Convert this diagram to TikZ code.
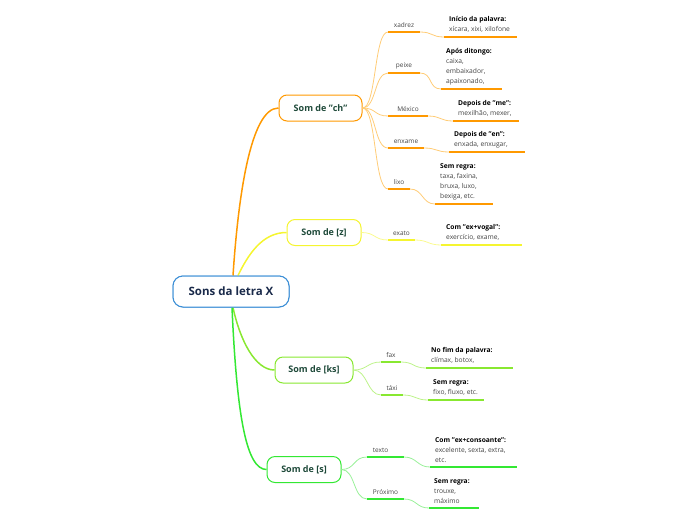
\documentclass[tikz,border=0pt]{standalone}
\usepackage{fontspec}
\setmainfont{Open Sans}
\usetikzlibrary{calc}
\definecolor{cOr}{HTML}{FF9900}
\definecolor{cOrL}{HTML}{FFCC77}
\definecolor{cYe}{HTML}{F5F530}
\definecolor{cYeL}{HTML}{FAFA90}
\definecolor{cLg}{HTML}{88E830}
\definecolor{cLgL}{HTML}{BDF38A}
\definecolor{cGr}{HTML}{33E833}
\definecolor{cGrL}{HTML}{99F099}
\definecolor{cBl}{HTML}{3D8FD6}
\definecolor{cTxt}{HTML}{1F4A3A}
\definecolor{cRoot}{HTML}{1A2A4A}
\definecolor{cGrey}{HTML}{444444}
\tikzset{
  box/.style={draw, fill=white, rounded corners=8pt, line width=1pt, inner sep=0pt, font=\fontsize{9}{10}\selectfont\bfseries, text=cTxt, minimum height=26pt},
  rootbox/.style={draw=cBl, fill=white, rounded corners=10pt, line width=1pt, inner sep=0pt, font=\fontsize{11.5}{13}\selectfont\bfseries, text=cRoot, minimum width=116pt, minimum height=31pt},
  lbl/.style={font=\fontsize{6.5}{8}\selectfont, text=cGrey, inner sep=0pt, anchor=south},
  leaf/.style={font=\fontsize{6.7}{10}\selectfont, text=cGrey, inner sep=0pt, anchor=south west, align=left},
  uline/.style={line width=1.6pt},
  conn/.style={line width=0.8pt},
  main/.style={line width=1.5pt},
}
\newcommand{\hd}[1]{{\bfseries\color{black}#1}}
\begin{document}
\begin{tikzpicture}[x=1pt,y=-1pt]
\useasboundingbox (0,0) rectangle (696,520);
% main nodes
\node[rootbox] (root) at (231,291.5) {Sons da letra X};
\node[box, draw=cOr, minimum width=83pt] (ch) at (320.5,108) {Som de "ch"};
\node[box, draw=cYe, minimum width=74pt] (z) at (324,232.5) {Som de [z]};
\node[box, draw=cLg, minimum width=78pt] (ks) at (314,370) {Som de [ks]};
\node[box, draw=cGr, minimum width=74pt] (s) at (304,469.5) {Som de [s]};
% root connectors
\coordinate (rt1) at ($(root.north)+(2,0)$);
\coordinate (rt2) at ($(root.north)+(7,0)$);
\coordinate (rb1) at ($(root.south)+(2,0)$);
\coordinate (rb2) at ($(root.south)+(1,0)$);
\draw[main, cOr] (rt1) .. controls (238,200) and (250,108) .. (ch.west);
\draw[main, cYe] (rt2) .. controls (248,255) and (262,232.5) .. (z.west);
\draw[main, cLg] (rb1) .. controls (240,340) and (255,370) .. (ks.west);
\draw[main, cGr] (rb2) .. controls (237,420) and (247,469.5) .. (s.west);
\node[rootbox] at (root) {Sons da letra X};
% ---------- ch group ----------
\coordinate (a1) at (388,32); \coordinate (a2) at (420,32);
\coordinate (a3) at (444,37); \coordinate (a4) at (517,37);
\coordinate (b1) at (388,73); \coordinate (b2) at (420,73);
\coordinate (b3) at (441,89); \coordinate (b4) at (502,89);
\coordinate (c1) at (388,116); \coordinate (c2) at (428,116);
\coordinate (c3) at (453,121); \coordinate (c4) at (519,121);
\coordinate (d1) at (388,148); \coordinate (d2) at (424,148);
\coordinate (d3) at (449,152); \coordinate (d4) at (525,152);
\coordinate (e1) at (388,189); \coordinate (e2) at (410,189);
\coordinate (e3) at (435,204); \coordinate (e4) at (493,204);
\foreach \p in {a,b,c,d,e}{
  \draw[conn, cOrL] (ch.east) .. controls +(14,0) and +(-14,0) .. (\p1);
  \draw[conn, cOrL] (\p2) .. controls +(13,0) and +(-13,0) .. (\p3);
  \draw[uline, cOr] (\p1) -- (\p2);
  \draw[uline, cOr] (\p3) -- (\p4);
}
\node[lbl] (la) at ($(a1)!0.5!(a2)+(0,-4)$) {xadrez};
\node[lbl] (lb) at ($(b1)!0.5!(b2)+(0,-4)$) {peixe};
\node[lbl] (lc) at ($(c1)!0.5!(c2)+(0,-4)$) {México};
\node[lbl] (ld) at ($(d1)!0.5!(d2)+(0,-4)$) {enxame};
\node[lbl] (le) at ($(e1)!0.5!(e2)+(0,-4)$) {lixo};
\node[leaf] (fa) at ($(a3)+(5,-4)$) {\hd{Início da palavra:}\\xícara, xixi, xilofone};
\node[leaf] (fb) at ($(b3)+(5,-4)$) {\hd{Após ditongo:}\\caixa,\\embaixador,\\apaixonado,};
\node[leaf] (fc) at ($(c3)+(5,-4)$) {\hd{Depois de "me":}\\mexilhão, mexer,};
\node[leaf] (fd) at ($(d3)+(5,-4)$) {\hd{Depois de "en":}\\enxada, enxugar,};
\node[leaf] (fe) at ($(e3)+(5,-4)$) {\hd{Sem regra:}\\taxa, faxina,\\bruxa, luxo,\\bexiga, etc.};
% ---------- z group ----------
\coordinate (g1) at (388,240); \coordinate (g2) at (415,240);
\coordinate (g3) at (441,245); \coordinate (g4) at (522,245);
\draw[conn, cYeL] (z.east) .. controls +(14,0) and +(-14,0) .. (g1);
\draw[conn, cYeL] (g2) .. controls +(13,0) and +(-13,0) .. (g3);
\draw[uline, cYe] (g1) -- (g2);
\draw[uline, cYe] (g3) -- (g4);
\node[lbl] (lg) at ($(g1)!0.5!(g2)+(0,-4)$) {exato};
\node[leaf] (fg) at ($(g3)+(5,-4)$) {\hd{Com "ex+vogal":}\\exercício, exame,};
% ---------- ks group ----------
\coordinate (h1) at (381,362); \coordinate (h2) at (401,362);
\coordinate (h3) at (426,368); \coordinate (h4) at (513,368);
\coordinate (i1) at (381,395); \coordinate (i2) at (403,395);
\coordinate (i3) at (428,400); \coordinate (i4) at (484,400);
\foreach \p in {h,i}{
  \draw[conn, cLgL] (ks.east) .. controls +(14,0) and +(-14,0) .. (\p1);
  \draw[conn, cLgL] (\p2) .. controls +(13,0) and +(-13,0) .. (\p3);
  \draw[uline, cLg] (\p1) -- (\p2);
  \draw[uline, cLg] (\p3) -- (\p4);
}
\node[lbl] (lh) at ($(h1)!0.5!(h2)+(0,-4)$) {fax};
\node[lbl] (li) at ($(i1)!0.5!(i2)+(0,-4)$) {táxi};
\node[leaf] (fh) at ($(h3)+(5,-4)$) {\hd{No fim da palavra:}\\clímax, botox,};
\node[leaf] (fi) at ($(i3)+(5,-4)$) {\hd{Sem regra:}\\fixo, fluxo, etc.};
% ---------- s group ----------
\coordinate (j1) at (367,457); \coordinate (j2) at (404,457);
\coordinate (j3) at (430,467); \coordinate (j4) at (517,467);
\coordinate (k1) at (367,499); \coordinate (k2) at (404,499);
\coordinate (k3) at (429,508); \coordinate (k4) at (479,508);
\foreach \p in {j,k}{
  \draw[conn, cGrL] (s.east) .. controls +(14,0) and +(-14,0) .. (\p1);
  \draw[conn, cGrL] (\p2) .. controls +(13,0) and +(-13,0) .. (\p3);
  \draw[uline, cGr] (\p1) -- (\p2);
  \draw[uline, cGr] (\p3) -- (\p4);
}
\node[lbl] (lj) at ($(j1)!0.5!(j2)+(-5,-4)$) {texto};
\node[lbl] (lk) at ($(k1)!0.5!(k2)+(0,-4)$) {Próximo};
\node[leaf] (fj) at ($(j3)+(5,-4)$) {\hd{Com "ex+consoante":}\\excelente, sexta, extra,\\etc.};
\node[leaf] (fk) at ($(k3)+(5,-4)$) {\hd{Sem regra:}\\trouxe,\\máximo};
\end{tikzpicture}
\end{document}
